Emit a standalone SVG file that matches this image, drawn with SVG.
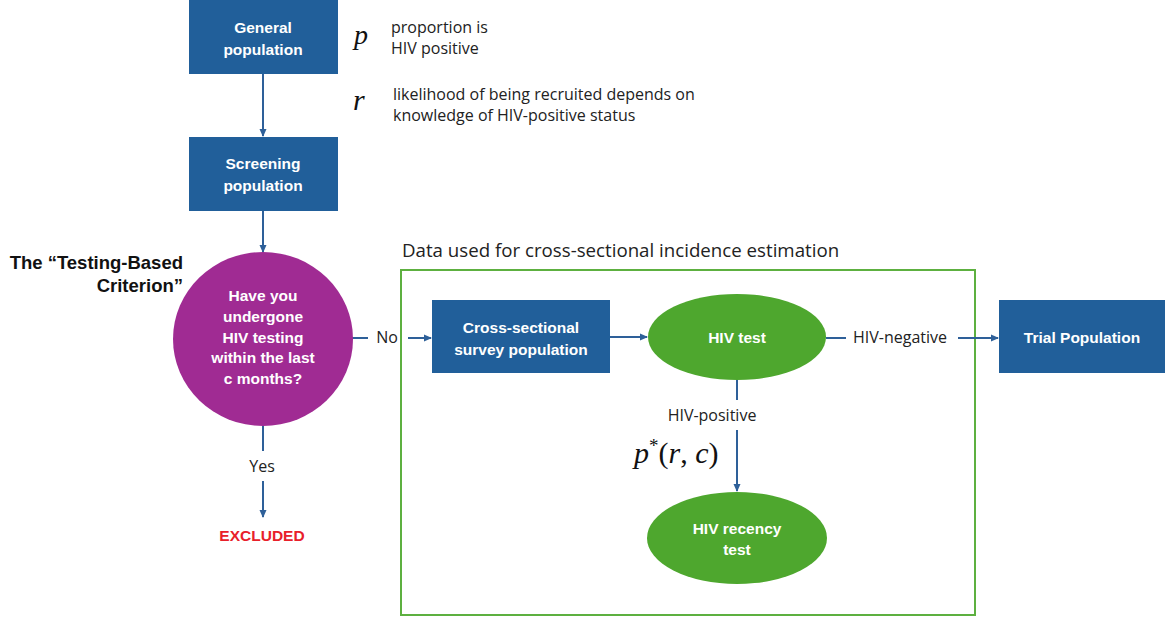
<svg xmlns="http://www.w3.org/2000/svg" width="1165" height="620" viewBox="0 0 1165 620">
<style>
.box{fill:#215F9A}
.ell{fill:#4EA72E}
.wt{font-family:"Liberation Sans",Arial,sans-serif;font-size:15.5px;font-weight:bold;fill:#fff;text-anchor:middle}
.lbl{font-family:"Open Sans","Liberation Sans",Arial,sans-serif;font-size:16px;fill:#222}
.ln{stroke:#2E6099;stroke-width:2;fill:none}
.math{font-family:"Liberation Serif","DejaVu Serif",serif;font-style:italic;fill:#111}
</style>
<defs>
<marker id="ah" markerWidth="8" markerHeight="8" refX="7" refY="4" orient="auto" markerUnits="userSpaceOnUse">
<path d="M0,0.5 L8,4 L0,7.5 Z" fill="#2E6099"/>
</marker>
</defs>
<rect x="0" y="0" width="1165" height="620" fill="#fff"/>
<rect x="401" y="270" width="574" height="345" fill="none" stroke="#5DB040" stroke-width="2"/>
<text x="402" y="257" font-family="Open Sans,Liberation Sans,Arial,sans-serif" font-size="18.7" fill="#222">Data used for cross-sectional incidence estimation</text>
<g id="connectors">
<line class="ln" x1="263" y1="74" x2="263" y2="136" marker-end="url(#ah)"/>
<line class="ln" x1="263" y1="211" x2="263" y2="252" marker-end="url(#ah)"/>
<line class="ln" x1="263" y1="425" x2="263" y2="451"/>
<line class="ln" x1="263" y1="481" x2="263" y2="517" marker-end="url(#ah)"/>
<line class="ln" x1="352" y1="338" x2="368" y2="338"/>
<line class="ln" x1="408" y1="338" x2="431" y2="338" marker-end="url(#ah)"/>
<line class="ln" x1="610" y1="337" x2="647" y2="337" marker-end="url(#ah)"/>
<line class="ln" x1="826" y1="338" x2="846" y2="338"/>
<line class="ln" x1="958" y1="338" x2="998" y2="338" marker-end="url(#ah)"/>
<line class="ln" x1="737" y1="380" x2="737" y2="400"/>
<line class="ln" x1="737" y1="430" x2="737" y2="491" marker-end="url(#ah)"/>
<text class="lbl" x="387" y="343" text-anchor="middle">No</text>
<text class="lbl" x="262" y="472" text-anchor="middle">Yes</text>
<text class="lbl" x="900" y="343" text-anchor="middle">HIV-negative</text>
<text class="lbl" x="712" y="421" text-anchor="middle">HIV-positive</text>
</g>
<g id="general">
<rect class="box" x="189" y="0" width="149" height="74"/>
<text class="wt" x="263" y="33">General</text>
<text class="wt" x="263" y="55">population</text>
</g>
<g id="screening">
<rect class="box" x="189" y="137" width="149" height="74"/>
<text class="wt" x="263" y="169">Screening</text>
<text class="wt" x="263" y="191">population</text>
</g>
<g id="criterion">
<ellipse cx="263" cy="339" rx="90" ry="87" fill="#A02B93"/>
<text class="wt" x="263" y="301">Have you</text>
<text class="wt" x="263" y="322">undergone</text>
<text class="wt" x="263" y="343">HIV testing</text>
<text class="wt" x="263" y="363">within the last</text>
<text class="wt" x="263" y="384">c months?</text>
<text x="183" y="269" font-family="Liberation Sans,Arial,sans-serif" font-size="18.5" font-weight="bold" fill="#111" text-anchor="end">The “Testing-Based</text>
<text x="183" y="292" font-family="Liberation Sans,Arial,sans-serif" font-size="18.5" font-weight="bold" fill="#111" text-anchor="end">Criterion”</text>
</g>
<g id="excluded">
<text x="262" y="541" font-family="Liberation Sans,Arial,sans-serif" font-size="15.5" font-weight="bold" fill="#E8202A" text-anchor="middle">EXCLUDED</text>
</g>
<g id="survey">
<rect class="box" x="432" y="300" width="178" height="73"/>
<text class="wt" x="521" y="333">Cross-sectional</text>
<text class="wt" x="521" y="355">survey population</text>
</g>
<g id="hivtest">
<ellipse class="ell" cx="737" cy="337" rx="89" ry="43"/>
<text class="wt" x="737" y="343">HIV test</text>
</g>
<g id="trial">
<rect class="box" x="999" y="300" width="166" height="73"/>
<text class="wt" x="1082" y="343">Trial Population</text>
</g>
<g id="recency">
<ellipse class="ell" cx="737" cy="538" rx="90" ry="46"/>
<text class="wt" x="737" y="534">HIV recency</text>
<text class="wt" x="737" y="555">test</text>
</g>
<g id="annotations">
<text class="math" x="354" y="44" font-size="28">p</text>
<text class="lbl" x="391" y="33" font-size="15">proportion is</text>
<text class="lbl" x="391" y="54" font-size="15">HIV positive</text>
<text class="math" x="353" y="110" font-size="30">r</text>
<text class="lbl" x="393" y="100" font-size="15">likelihood of being recruited depends on</text>
<text class="lbl" x="393" y="121" font-size="15">knowledge of HIV-positive status</text>
<text class="math" x="634" y="463" font-size="30">p<tspan font-size="19" dy="-11" font-style="normal">*</tspan><tspan dy="11" font-style="normal">(</tspan>r<tspan font-style="normal">, </tspan>c<tspan font-style="normal">)</tspan></text>
</g>
</svg>
